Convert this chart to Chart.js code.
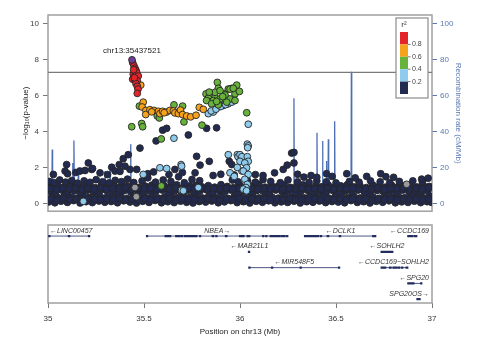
<!DOCTYPE html>
<html>
<head>
<meta charset="utf-8">
<script src="https://cdn.jsdelivr.net/npm/chart.js@4.4.1/dist/chart.umd.min.js"></script>
<style>
html, body { margin: 0; padding: 0; background: #fff; }
#wrap { position: relative; width: 480px; height: 346px; }
#assoc { position: absolute; left: 0; top: 0; display: block; }
#genes { position: absolute; left: 0; top: 220px; display: block; }
</style>
</head>
<body>
<div id="wrap">
  <canvas id="assoc" width="480" height="220"></canvas>
  <canvas id="genes" width="480" height="126"></canvas>
</div>
<script>
(function () {
    'use strict';

    // SNPs, [position (Mb), -log10 p], grouped by r2 with the lead SNP
    var leadSnp = [[35.4375, 8.0]];
    var leadLabel = 'chr13:35437521';

    var snpsR2_08 = [[35.441,7.84],[35.448,7.66],[35.453,7.53],[35.458,7.42],[35.444,7.2],[35.453,7.1],[35.462,7.29],[35.47,7.1],
        [35.441,6.92],[35.453,6.87],[35.465,6.83],[35.458,6.68],[35.465,6.52],[35.469,6.37],[35.465,6.13],[35.446,7.45],[35.45,7.0]];

    var snpsR2_06 = [[35.483,6.59],[35.496,5.64],[35.49,5.37],[35.51,5.18],[35.509,4.95],[35.531,5.22],[35.552,5.18],[35.575,5.13],
        [35.583,5.0],[35.597,5.13],[35.618,5.09],[35.635,5.18],[35.653,5.15],[35.661,5.04],[35.679,5.0],[35.69,5.2],[35.701,4.95],
        [35.722,4.87],[35.743,4.82],[35.771,4.91],[35.788,5.35],[35.809,5.24],[35.54,5.1],[35.605,5.05]];

    var snpsR2_04 = [[35.476,5.42],[35.436,4.27],[35.488,4.45],[35.493,4.27],[35.569,4.87],[35.58,4.76],[35.59,3.59],[35.656,5.49],
        [35.701,5.42],[35.708,4.54],[35.802,4.36],[35.59,0.97],
        [35.823,6.1],[35.847,6.01],[35.87,5.92],[35.882,6.74],[35.887,6.41],[35.835,5.86],[35.861,5.73],[35.896,5.82],[35.917,6.1],
        [35.939,6.37],[35.957,6.41],[35.983,6.59],[35.974,6.1],[35.948,5.82],[35.931,5.64],[35.887,5.49],[35.87,6.19],[35.896,6.28],
        [35.922,6.04],[35.948,6.37],[35.965,6.41],[35.997,6.24],[35.974,5.73],[35.826,5.73],[35.852,5.55],[35.878,5.68],[36.035,5.05],
        [35.84,6.2],[35.91,5.95]];

    var snpsR2_02 = [[35.184,0.11],[35.496,1.61],[35.583,1.98],[35.618,1.94],[35.693,2.16],[35.656,3.63],[35.696,0.73],[35.705,0.7],
        [35.783,0.88],[35.835,5.0],[35.861,5.09],[35.887,5.37],[35.913,5.46],[35.939,5.55],[35.957,5.64],[35.965,5.82],[35.85,5.15],
        [35.875,5.25],[35.9,5.4],[35.925,5.5],[35.948,1.7],[35.939,2.71],[35.986,2.71],[35.99,2.6],[36.0,2.71],[36.01,2.6],[36.0,2.34],
        [36.01,1.8],[36.043,4.41],[36.038,3.3],[36.043,3.2],[36.04,3.1],[36.038,2.6],[36.043,2.34],[36.025,2.25],[36.034,1.98],
        [36.017,1.8],[36.043,1.61],[36.025,1.34],[36.038,1.06],[36.031,0.88],[36.017,0.79],[36.034,0.7],[35.696,2.07],[35.986,2.0],[35.97,1.5]];

    var snpsR2_00 = [
        [35.005,0.08],[35.036,0.03],[35.068,0.12],[35.101,0.05],[35.133,0.15],[35.167,0.02],[35.198,0.09],[35.231,0.04],[35.265,0.13],
        [35.296,0.06],[35.329,0.1],[35.362,0.03],[35.394,0.14],[35.427,0.07],[35.461,0.02],[35.493,0.11],[35.526,0.05],[35.558,0.16],
        [35.591,0.03],[35.624,0.09],[35.657,0.04],[35.69,0.12],[35.722,0.06],[35.755,0.02],[35.788,0.1],[35.821,0.07],[35.853,0.13],
        [35.887,0.03],[35.919,0.08],[35.952,0.15],[35.985,0.04],[36.018,0.09],[36.051,0.02],[36.084,0.11],[36.117,0.06],[36.149,0.14],
        [36.182,0.03],[36.215,0.08],[36.248,0.05],[36.281,0.12],[36.314,0.02],[36.347,0.09],[36.38,0.06],[36.413,0.13],[36.446,0.04],
        [36.479,0.1],[36.512,0.07],[36.545,0.03],[36.578,0.15],[36.611,0.05],[36.644,0.09],[36.677,0.02],[36.71,0.11],[36.743,0.06],
        [36.776,0.14],[36.809,0.03],[36.842,0.08],[36.875,0.05],[36.908,0.12],[36.941,0.04],[36.974,0.09],[36.996,0.06],
        [35.021,0.38],[35.053,0.31],[35.085,0.44],[35.117,0.35],[35.15,0.29],[35.183,0.41],[35.214,0.33],[35.248,0.46],[35.281,0.3],
        [35.313,0.39],[35.346,0.34],[35.378,0.43],[35.411,0.28],[35.444,0.37],[35.477,0.42],[35.509,0.32],[35.542,0.4],[35.575,0.29],
        [35.607,0.36],[35.641,0.44],[35.673,0.31],[35.706,0.38],[35.739,0.33],[35.771,0.45],[35.804,0.3],[35.837,0.39],[35.87,0.34],
        [35.903,0.42],[35.936,0.28],[35.969,0.37],[36.002,0.41],[36.035,0.32],[36.068,0.38],[36.1,0.3],[36.133,0.43],[36.166,0.35],
        [36.199,0.29],[36.232,0.4],[36.265,0.33],[36.298,0.46],[36.331,0.31],[36.363,0.38],[36.397,0.34],[36.43,0.42],[36.462,0.29],
        [36.495,0.37],[36.528,0.44],[36.561,0.32],[36.594,0.39],[36.627,0.3],[36.66,0.41],[36.693,0.35],[36.726,0.28],[36.759,0.43],
        [36.792,0.33],[36.825,0.38],[36.858,0.31],[36.891,0.45],[36.924,0.36],[36.957,0.3],[36.988,0.4],
        [35.009,0.68],[35.04,0.61],[35.072,0.74],[35.104,0.65],[35.137,0.7],[35.17,0.6],[35.202,0.72],[35.235,0.66],[35.268,0.63],
        [35.3,0.75],[35.333,0.67],[35.366,0.62],[35.398,0.71],[35.431,0.64],[35.465,0.73],[35.497,0.6],[35.53,0.69],[35.562,0.66],
        [35.595,0.74],[35.628,0.61],[35.661,0.7],[35.694,0.65],[35.726,0.72],[35.759,0.63],[35.792,0.68],[35.825,0.75],[35.857,0.62],
        [35.891,0.7],[35.923,0.66],[35.956,0.73],[35.989,0.6],[36.022,0.69],[36.055,0.64],[36.088,0.71],[36.121,0.67],[36.153,0.62],
        [36.186,0.74],[36.219,0.65],[36.252,0.7],[36.285,0.61],[36.318,0.68],[36.351,0.73],[36.384,0.63],[36.417,0.69],[36.45,0.66],
        [36.483,0.72],[36.516,0.6],[36.549,0.7],[36.582,0.65],[36.615,0.74],[36.648,0.62],[36.681,0.68],[36.714,0.71],[36.747,0.64],
        [36.78,0.69],[36.813,0.61],[36.846,0.73],[36.879,0.66],[36.912,0.7],[36.945,0.63],[36.978,0.68],
        [35.018,0.95],[35.05,1.02],[35.083,0.9],[35.115,0.98],[35.148,1.04],[35.18,0.92],[35.212,0.99],[35.245,0.88],[35.278,1.03],
        [35.311,0.94],[35.344,1.0],[35.376,0.91],[35.409,0.97],[35.442,1.05],[35.475,0.89],[35.507,0.96],[35.54,1.01],[35.573,0.9],
        [35.605,0.98],[35.638,0.93],[35.671,1.03],[35.704,0.88],[35.737,0.97],[35.769,1.0],[35.802,0.92],[35.835,0.99],[35.868,0.9],
        [35.901,1.04],[35.934,0.94],[35.967,0.88],[36.0,1.0],[36.033,0.93],[36.066,0.97],[36.098,1.05],[36.131,0.9],[36.164,0.99],
        [36.197,0.94],[36.23,1.02],[36.263,0.89],[36.296,0.96],[36.329,1.03],[36.361,0.91],[36.395,0.98],[36.428,0.93],[36.46,1.01],
        [36.493,0.9],[36.526,0.97],[36.559,1.04],[36.592,0.92],[36.625,0.98],[36.658,0.88],[36.691,1.02],[36.724,0.95],[36.757,0.9],
        [36.79,1.0],[36.823,0.93],[36.856,0.97],[36.889,1.03],[36.922,0.91],[36.955,0.99],[36.986,0.94],
        [35.006,1.22],[35.034,1.15],[35.061,1.3],[35.092,1.18],[35.124,1.27],[35.153,1.12],[35.188,1.25],[35.219,1.17],[35.251,1.32],
        [35.284,1.2],[35.318,1.14],[35.35,1.28],[35.383,1.21],[35.414,1.35],[35.447,1.16],[35.49,1.25],[35.52,1.42],[35.56,1.18],
        [35.6,1.3],[35.64,1.22],[35.68,1.48],[35.71,1.15],[35.75,1.33],[35.79,1.26],[35.96,1.3],[35.99,1.2],[36.04,1.25],[36.08,1.18],
        [36.12,1.32],[36.16,1.22],[36.21,1.15],[36.25,1.3],[36.3,1.2],[36.36,1.16],[36.4,1.25],[36.45,1.2],[36.5,1.14],[36.57,1.22],
        [36.62,1.18],[36.68,1.25],[36.73,1.2],[36.78,1.15],[36.83,1.22],[36.9,1.25],[36.95,1.2],
        [35.028,1.61],[35.089,1.8],[35.097,2.16],[35.102,1.65],[35.145,1.72],[35.167,1.8],[35.193,1.83],[35.21,2.25],[35.228,1.89],
        [35.232,1.94],[35.271,1.7],[35.31,1.6],[35.332,2.01],[35.349,1.8],[35.371,2.16],[35.375,1.78],[35.392,2.49],[35.401,2.07],
        [35.418,2.71],[35.427,1.89],[35.462,1.89],[35.479,3.08],[35.563,3.48],[35.597,4.08],[35.618,4.18],[35.731,3.81],[35.826,4.18],
        [35.878,4.21],[35.774,2.62],[35.84,2.34],[35.792,2.13],[35.944,2.34],[35.957,2.16],[35.661,1.89],[35.766,1.7],[35.52,1.65],
        [35.55,1.75],[35.63,1.6],[35.7,1.72],[35.86,1.55],[35.9,1.62],[35.97,1.58],[36.08,1.6],[36.12,1.55],[36.18,1.7],[36.225,1.89],
        [36.246,2.13],[36.269,2.8],[36.281,2.84],[36.281,2.25],[36.3,1.62],[36.333,1.46],[36.37,1.55],[36.4,1.45],[36.451,1.65],
        [36.48,1.5],[36.556,1.65],[36.6,1.42],[36.66,1.5],[36.733,1.65],[36.76,1.48],[36.8,1.45],[36.946,1.35],[36.98,1.4],
        [35.013,0.24],[35.047,0.18],[35.079,0.27],[35.112,0.2],[35.145,0.23],[35.176,0.17],[35.208,0.26],[35.242,0.21],[35.274,0.19],
        [35.306,0.25],[35.339,0.2],[35.372,0.27],[35.404,0.18],[35.437,0.23],[35.47,0.2],[35.503,0.26],[35.535,0.19],[35.568,0.24],
        [35.601,0.21],[35.633,0.27],[35.667,0.18],[35.699,0.25],[35.732,0.2],[35.765,0.23],[35.797,0.19],[35.83,0.26],[35.863,0.21],
        [35.896,0.18],[35.929,0.24],[35.962,0.2],[35.995,0.27],[36.028,0.19],[36.061,0.23],[36.093,0.21],[36.126,0.26],[36.159,0.18],
        [36.192,0.24],[36.225,0.2],[36.258,0.27],[36.29,0.19],[36.323,0.23],[36.356,0.2],[36.389,0.26],[36.422,0.18],[36.455,0.24],
        [36.488,0.21],[36.521,0.27],[36.554,0.19],[36.587,0.23],[36.62,0.2],[36.653,0.25],[36.686,0.18],[36.719,0.24],[36.752,0.21],
        [36.785,0.26],[36.818,0.19],[36.851,0.23],[36.884,0.2],[36.917,0.25],[36.95,0.18],[36.983,0.24],
        [35.012,0.82],[35.045,0.79],[35.077,0.85],[35.11,0.8],[35.142,0.84],[35.175,0.78],[35.207,0.83],[35.24,0.8],[35.273,0.86],
        [35.305,0.79],[35.338,0.82],[35.371,0.8],[35.403,0.85],[35.436,0.78],[35.47,0.83],[35.502,0.81],[35.535,0.84],[35.567,0.79],
        [35.6,0.82],[35.633,0.8],[35.666,0.86],[35.699,0.78],[35.731,0.83],[35.764,0.81],[35.797,0.84],[35.83,0.79],[35.862,0.82],
        [35.896,0.8],[35.928,0.85],[35.961,0.78],[35.994,0.83],[36.027,0.81],[36.06,0.84],[36.093,0.79],[36.126,0.82],[36.158,0.8],
        [36.191,0.85],[36.224,0.78],[36.257,0.83],[36.29,0.81],[36.323,0.84],[36.356,0.79],[36.389,0.82],[36.422,0.8],[36.455,0.85],
        [36.488,0.78],[36.521,0.83],[36.554,0.81],[36.587,0.84],[36.62,0.79],[36.653,0.82],[36.686,0.8],[36.719,0.85],[36.752,0.78],
        [36.785,0.83],[36.818,0.81],[36.851,0.84],[36.884,0.79],[36.917,0.82],[36.95,0.8],[36.983,0.85]];

    var snpsNoLd = [[35.453,0.88],[36.868,1.06],[35.46,0.37]];

    // recombination rate, [position (Mb), cM/Mb]
    var recombRate = [[35.0,1.0],[35.02,0.5],[35.022,30],[35.024,0.5],[35.06,2.0],[35.126,1.0],[35.129,22.5],[35.132,3.0],
        [35.135,35],[35.138,1.0],[35.156,1.0],[35.158,20],[35.16,1.0],[35.22,2.0],[35.295,1.0],[35.297,18],[35.299,1.0],
        [35.321,1.0],[35.323,21.6],[35.325,1.0],[35.38,2.0],[35.429,1.0],[35.431,33],[35.433,1.0],[35.5,1.5],[35.6,1.0],
        [35.7,2.0],[35.8,1.0],[35.9,1.5],[36.0,1.0],[36.1,2.0],[36.2,1.2],[36.279,1.0],[36.281,58.6],[36.283,1.0],[36.35,1.5],
        [36.399,1.0],[36.401,39.4],[36.403,1.0],[36.428,1.0],[36.43,34.8],[36.432,1.0],[36.448,1.0],[36.45,23.6],[36.452,1.0],
        [36.458,1.0],[36.46,35.7],[36.462,1.0],[36.491,1.0],[36.493,45.8],[36.495,1.0],[36.578,1.0],[36.58,73.3],[36.582,1.0],
        [36.7,2.0],[36.8,1.0],[36.9,1.5],[37.0,1.0]];

    var genomeWideLogP = 7.3;
    var logPTicks = [0, 2, 4, 6, 8, 10];
    var recombTicks = [0, 20, 40, 60, 80, 100];
    var positionTicks = [35, 35.5, 36, 36.5, 37];
    var r2Labels = ['0.8', '0.6', '0.4', '0.2'];

    // genes
    var geneNames = ['LINC00457', 'NBEA', 'DCLK1', 'CCDC169', 'MAB21L1', 'SOHLH2', 'MIR548F5', 'CCDC169\u2212SOHLH2', 'SPG20', 'SPG20OS'];
    var geneStart = [35.007, 35.516, 36.339, 36.877, 36.047, 36.738, 36.049, 36.738, 36.877, 36.92];
    var geneEnd = [35.215, 36.248, 36.708, 36.92, 36.051, 36.793, 36.517, 36.871, 36.946, 36.943];
    var geneStrand = [-1, 1, -1, -1, -1, -1, -1, -1, -1, 1];
    var geneRow = [1, 1, 1, 1, 2, 2, 3, 3, 4, 5];
    var geneExons = [
        [[35.007,35.008],[35.109,35.11],[35.214,35.215]],
        [[35.516,35.517],[35.613,35.615],[35.619,35.621],[35.63,35.632],[35.636,35.638],[35.668,35.67],[35.676,35.678],[35.684,35.686],
         [35.697,35.699],[35.714,35.716],[35.722,35.724],[35.729,35.731],[35.736,35.738],[35.743,35.745],[35.752,35.754],[35.76,35.762],
         [35.773,35.775],[35.792,35.794],[35.858,35.86],[35.877,35.879],[35.927,35.929],[36.0,36.002],[36.007,36.009],[36.018,36.02],
         [36.04,36.042],[36.046,36.048],[36.121,36.123],[36.137,36.139],[36.16,36.162],[36.17,36.172],[36.18,36.182],[36.192,36.194],
         [36.205,36.207],[36.218,36.22],[36.232,36.234],[36.246,36.248]],
        [[36.339,36.341],[36.346,36.348],[36.354,36.356],[36.362,36.364],[36.368,36.37],[36.375,36.377],[36.385,36.387],[36.395,36.397],
         [36.405,36.407],[36.422,36.424],[36.457,36.459],[36.52,36.521],[36.694,36.696],[36.702,36.704]],
        [[36.877,36.879],[36.884,36.886],[36.896,36.898],[36.91,36.912],[36.918,36.92]],
        [[36.047,36.051]],
        [[36.738,36.742],[36.746,36.75],[36.754,36.758],[36.762,36.766],[36.77,36.775],[36.78,36.784],[36.789,36.793]],
        [[36.049,36.05],[36.167,36.168],[36.316,36.317],[36.516,36.517]],
        [[36.738,36.741],[36.745,36.748],[36.756,36.759],[36.781,36.784],[36.8,36.803],[36.81,36.813],[36.826,36.829],[36.845,36.848],
         [36.868,36.871]],
        [[36.877,36.88],[36.885,36.888],[36.892,36.895],[36.9,36.903],[36.944,36.946]],
        [[36.925,36.927],[36.932,36.934]]
    ];

    var FONT = '"Liberation Sans", Arial, Helvetica, sans-serif';
    var r2Colors = ['#e3242b', '#f7a21c', '#66b23a', '#8ecbed', '#232a50'];

    Chart.defaults.font.family = FONT;
    Chart.defaults.font.size = 8;

    function toXY(list) {
        return list.map(function (p) { return {x: p[0], y: p[1]}; });
    }

    function snpSet(label, list, fill, order) {
        return {
            label: label,
            data: toXY(list),
            backgroundColor: fill,
            borderColor: '#262626',
            borderWidth: 0.9,
            pointRadius: 3.4,
            order: order
        };
    }

    function setTicks(values) {
        return function (scale) {
            scale.ticks = values.map(function (v) { return {value: v}; });
        };
    }

    // association panel
    var assocDecor = {
        id: 'assocDecor',
        beforeDatasetsDraw: function (chart) {
            var ca = chart.chartArea, ctx = chart.ctx;
            ctx.save();
            ctx.strokeStyle = '#a0a0a0';
            ctx.lineWidth = 1.5;
            ctx.strokeRect(ca.left, ca.top, ca.right - ca.left, ca.bottom - ca.top);
            ctx.restore();
        },
        afterDatasetsDraw: function (chart) {
            var ctx = chart.ctx, ca = chart.chartArea, xs = chart.scales.x, ys = chart.scales.y;
            ctx.save();
            ctx.font = '8px ' + FONT;
            ctx.fillStyle = '#222';
            ctx.textAlign = 'center';
            ctx.textBaseline = 'bottom';
            ctx.fillText(leadLabel, xs.getPixelForValue(leadSnp[0][0]), ys.getPixelForValue(leadSnp[0][1]) - 5);

            // r2 key
            var bx = ca.right - 36, by = ca.top + 3, bw = 32, bh = 80, cellH = 12.4;
            ctx.fillStyle = '#fff';
            ctx.fillRect(bx, by, bw, bh);
            ctx.strokeStyle = '#8c8c8c';
            ctx.lineWidth = 1.2;
            ctx.strokeRect(bx, by, bw, bh);
            ctx.fillStyle = '#333';
            ctx.textBaseline = 'middle';
            ctx.fillText('r\u00b2', bx + 8, by + 7);
            r2Colors.forEach(function (c, i) {
                ctx.fillStyle = c;
                ctx.fillRect(bx + 4, by + 14 + i * cellH, 8, cellH);
            });
            ctx.font = '7px ' + FONT;
            ctx.textAlign = 'left';
            ctx.fillStyle = '#444';
            ctx.strokeStyle = '#555';
            ctx.lineWidth = 0.8;
            r2Labels.forEach(function (t, i) {
                var yy = by + 14 + (i + 1) * cellH;
                ctx.beginPath();
                ctx.moveTo(bx + 12, yy);
                ctx.lineTo(bx + 14.5, yy);
                ctx.stroke();
                ctx.fillText(t, bx + 16, yy);
            });
            ctx.restore();
        }
    };

    new Chart(document.getElementById('assoc'), {
        type: 'scatter',
        data: {
            datasets: [
                snpSet('lead', leadSnp, '#6f3f98', 0),
                snpSet('r2 0.8-1', snpsR2_08, r2Colors[0], 1),
                snpSet('r2 0.6-0.8', snpsR2_06, r2Colors[1], 2),
                snpSet('r2 0.4-0.6', snpsR2_04, r2Colors[2], 3),
                snpSet('r2 0.2-0.4', snpsR2_02, r2Colors[3], 4),
                snpSet('no r2', snpsNoLd, '#9a9a9a', 5),
                snpSet('r2 0-0.2', snpsR2_00, r2Colors[4], 6),
                {
                    label: 'genome-wide',
                    data: [{x: 35, y: genomeWideLogP}, {x: 37, y: genomeWideLogP}],
                    showLine: true, borderColor: '#7a7a7a', borderWidth: 1.2, pointRadius: 0, order: 7
                },
                {
                    label: 'recombination',
                    data: toXY(recombRate),
                    yAxisID: 'y2',
                    showLine: true, borderColor: '#4f6fb5', borderWidth: 1.3, pointRadius: 0, order: 8
                }
            ]
        },
        options: {
            responsive: false,
            animation: false,
            devicePixelRatio: 1,
            layout: {padding: {top: 15, bottom: 6, left: 0, right: 0}},
            plugins: {legend: {display: false}, tooltip: {enabled: false}},
            scales: {
                x: {type: 'linear', min: 35, max: 37, display: false},
                y: {
                    type: 'linear', position: 'left', min: -0.44, max: 10.5,
                    afterBuildTicks: setTicks(logPTicks),
                    afterFit: function (s) { s.width = 48; },
                    ticks: {color: '#444', padding: 4, callback: function (v) { return String(v); }},
                    grid: {drawOnChartArea: false, tickLength: 5, color: '#777'},
                    border: {display: false},
                    title: {display: true, text: '\u2212log\u2081\u2080(p-value)', color: '#222', padding: {top: 21, bottom: 0}}
                },
                y2: {
                    type: 'linear', position: 'right', min: -4.4, max: 105,
                    afterBuildTicks: setTicks(recombTicks),
                    afterFit: function (s) { s.width = 48; },
                    ticks: {color: '#5a78b3', padding: 3, callback: function (v) { return String(v); }},
                    grid: {drawOnChartArea: false, tickLength: 5, color: '#5a78b3'},
                    border: {display: false},
                    title: {display: true, text: 'Recombination rate (cM/Mb)', color: '#5a78b3', padding: {top: 17, bottom: 0}}
                }
            }
        },
        plugins: [assocDecor]
    });

    // gene panel
    var geneSets = [], exonPts = [];
    geneNames.forEach(function (name, i) {
        geneSets.push({
            label: name,
            data: [{x: geneStart[i], y: geneRow[i]}, {x: geneEnd[i], y: geneRow[i]}],
            showLine: true, borderColor: '#3a4573', borderWidth: 0.9, pointRadius: 0
        });
        geneExons[i].forEach(function (e) {
            exonPts.push({x: e[0], y: geneRow[i]}, {x: e[1], y: geneRow[i]}, {x: e[1], y: null});
        });
    });
    geneSets.unshift({
        label: 'exons',
        data: exonPts,
        showLine: true, spanGaps: false, borderColor: '#222c5e', borderWidth: 2.3,
        borderCapStyle: 'square', pointRadius: 0
    });

    var geneDecor = {
        id: 'geneDecor',
        beforeDatasetsDraw: function (chart) {
            var ca = chart.chartArea, ctx = chart.ctx;
            ctx.save();
            ctx.strokeStyle = '#a0a0a0';
            ctx.lineWidth = 1.5;
            ctx.strokeRect(ca.left, ca.top, ca.right - ca.left, ca.bottom - ca.top);
            ctx.restore();
        },
        afterDatasetsDraw: function (chart) {
            var ctx = chart.ctx, ca = chart.chartArea, xs = chart.scales.x, ys = chart.scales.y;
            ctx.save();
            ctx.font = 'italic 7px ' + FONT;
            ctx.fillStyle = '#333';
            ctx.textAlign = 'center';
            ctx.textBaseline = 'middle';
            geneNames.forEach(function (name, i) {
                var text = geneStrand[i] < 0 ? '\u2190' + name : name + '\u2192';
                var w = ctx.measureText(text).width;
                var cx = (xs.getPixelForValue(geneStart[i]) + xs.getPixelForValue(geneEnd[i])) / 2;
                cx = Math.max(ca.left + 2 + w / 2, Math.min(ca.right - 3 - w / 2, cx));
                ctx.fillText(text, cx, ys.getPixelForValue(geneRow[i]) - 5.5);
            });
            ctx.restore();
        }
    };

    new Chart(document.getElementById('genes'), {
        type: 'scatter',
        data: {datasets: geneSets},
        options: {
            responsive: false,
            animation: false,
            devicePixelRatio: 1,
            layout: {padding: {left: 48, right: 48, top: 5, bottom: 0}},
            plugins: {legend: {display: false}, tooltip: {enabled: false}},
            scales: {
                x: {
                    type: 'linear', min: 35, max: 37,
                    afterBuildTicks: setTicks(positionTicks),
                    afterFit: function (s) { s.height = 43; },
                    ticks: {color: '#333', padding: 6, callback: function (v) { return String(v); }},
                    grid: {drawOnChartArea: false, tickLength: 5, color: '#777'},
                    border: {display: false},
                    title: {display: true, text: 'Position on chr13 (Mb)', color: '#222', padding: {top: 0, bottom: 9}}
                },
                y: {type: 'linear', display: false, min: 0.3, max: 5.24, reverse: true}
            }
        },
        plugins: [geneDecor]
    });
})();
</script>
</body>
</html>
